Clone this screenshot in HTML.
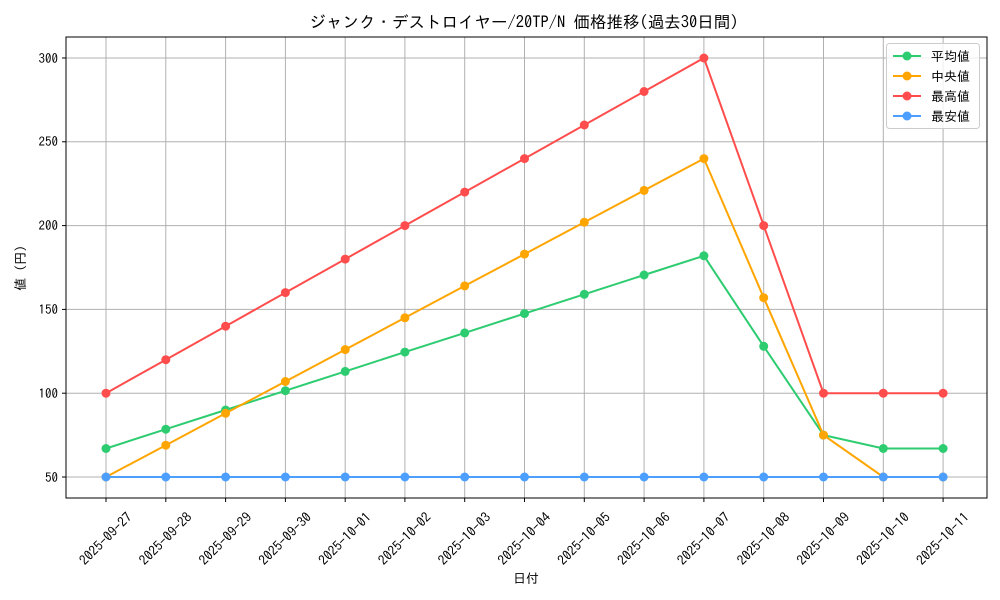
<!DOCTYPE html>
<html><head><meta charset="utf-8"><style>body{margin:0;background:#fff}svg{display:block}text{font-family:"IPAGothic","Liberation Sans",sans-serif;fill:#000}</style></head><body>
<svg width="1000" height="600" viewBox="0 0 1000 600" xmlns="http://www.w3.org/2000/svg">
<rect width="1000" height="600" fill="#fff"/>
<text x="524" y="28" font-size="16.5" text-anchor="middle">ジャンク・デストロイヤー/20TP/N 価格推移(過去30日間)</text>
<g stroke="#b0b0b0" stroke-width="1">
<line x1="106" y1="37" x2="106" y2="498"/><line x1="165.8" y1="37" x2="165.8" y2="498"/><line x1="225.6" y1="37" x2="225.6" y2="498"/><line x1="285.4" y1="37" x2="285.4" y2="498"/><line x1="345.2" y1="37" x2="345.2" y2="498"/><line x1="404.9" y1="37" x2="404.9" y2="498"/><line x1="464.7" y1="37" x2="464.7" y2="498"/><line x1="524.5" y1="37" x2="524.5" y2="498"/><line x1="584.3" y1="37" x2="584.3" y2="498"/><line x1="644.1" y1="37" x2="644.1" y2="498"/><line x1="703.9" y1="37" x2="703.9" y2="498"/><line x1="763.7" y1="37" x2="763.7" y2="498"/><line x1="823.5" y1="37" x2="823.5" y2="498"/><line x1="883.3" y1="37" x2="883.3" y2="498"/><line x1="943.1" y1="37" x2="943.1" y2="498"/>
<line x1="66" y1="477" x2="987" y2="477"/><line x1="66" y1="393.2" x2="987" y2="393.2"/><line x1="66" y1="309.4" x2="987" y2="309.4"/><line x1="66" y1="225.6" x2="987" y2="225.6"/><line x1="66" y1="141.8" x2="987" y2="141.8"/><line x1="66" y1="58" x2="987" y2="58"/>
</g>
<rect x="66" y="37" width="921" height="461" fill="none" stroke="#000" stroke-width="1"/>
<g stroke="#000"><line x1="62" y1="477" x2="66" y2="477"/><line x1="62" y1="393.2" x2="66" y2="393.2"/><line x1="62" y1="309.4" x2="66" y2="309.4"/><line x1="62" y1="225.6" x2="66" y2="225.6"/><line x1="62" y1="141.8" x2="66" y2="141.8"/><line x1="62" y1="58" x2="66" y2="58"/></g>
<g font-size="13" text-anchor="end"><text x="58" y="482">50</text><text x="58" y="398">100</text><text x="58" y="314">150</text><text x="58" y="230">200</text><text x="58" y="146">250</text><text x="58" y="63">300</text></g>
<text transform="translate(25,268) rotate(-90)" font-size="13" text-anchor="middle">値 (円)</text>
<text x="526" y="583" font-size="13" text-anchor="middle">日付</text>
<g stroke="#000"><line x1="106" y1="498" x2="106" y2="502"/><line x1="165.8" y1="498" x2="165.8" y2="502"/><line x1="225.6" y1="498" x2="225.6" y2="502"/><line x1="285.4" y1="498" x2="285.4" y2="502"/><line x1="345.2" y1="498" x2="345.2" y2="502"/><line x1="404.9" y1="498" x2="404.9" y2="502"/><line x1="464.7" y1="498" x2="464.7" y2="502"/><line x1="524.5" y1="498" x2="524.5" y2="502"/><line x1="584.3" y1="498" x2="584.3" y2="502"/><line x1="644.1" y1="498" x2="644.1" y2="502"/><line x1="703.9" y1="498" x2="703.9" y2="502"/><line x1="763.7" y1="498" x2="763.7" y2="502"/><line x1="823.5" y1="498" x2="823.5" y2="502"/><line x1="883.3" y1="498" x2="883.3" y2="502"/><line x1="943.1" y1="498" x2="943.1" y2="502"/></g>
<g font-size="13.5" text-anchor="middle">
<text transform="translate(109,542) rotate(-45)">2025-09-27</text>
<text transform="translate(168.8,542) rotate(-45)">2025-09-28</text>
<text transform="translate(228.6,542) rotate(-45)">2025-09-29</text>
<text transform="translate(288.4,542) rotate(-45)">2025-09-30</text>
<text transform="translate(348.2,542) rotate(-45)">2025-10-01</text>
<text transform="translate(407.9,542) rotate(-45)">2025-10-02</text>
<text transform="translate(467.7,542) rotate(-45)">2025-10-03</text>
<text transform="translate(527.5,542) rotate(-45)">2025-10-04</text>
<text transform="translate(587.3,542) rotate(-45)">2025-10-05</text>
<text transform="translate(647.1,542) rotate(-45)">2025-10-06</text>
<text transform="translate(706.9,542) rotate(-45)">2025-10-07</text>
<text transform="translate(766.7,542) rotate(-45)">2025-10-08</text>
<text transform="translate(826.5,542) rotate(-45)">2025-10-09</text>
<text transform="translate(886.3,542) rotate(-45)">2025-10-10</text>
<text transform="translate(946.1,542) rotate(-45)">2025-10-11</text>
</g>
<defs>
<marker id="mg" viewBox="0 0 10 10" refX="5" refY="5" markerWidth="10" markerHeight="10" markerUnits="userSpaceOnUse"><circle cx="5" cy="5" r="4.5" fill="#2ecc71"/></marker>
<marker id="mo" viewBox="0 0 10 10" refX="5" refY="5" markerWidth="10" markerHeight="10" markerUnits="userSpaceOnUse"><circle cx="5" cy="5" r="4.5" fill="#ffa500"/></marker>
<marker id="mr" viewBox="0 0 10 10" refX="5" refY="5" markerWidth="10" markerHeight="10" markerUnits="userSpaceOnUse"><circle cx="5" cy="5" r="4.5" fill="#ff4d4d"/></marker>
<marker id="mb" viewBox="0 0 10 10" refX="5" refY="5" markerWidth="10" markerHeight="10" markerUnits="userSpaceOnUse"><circle cx="5" cy="5" r="4.5" fill="#4d9fff"/></marker>
</defs>
<g fill="none" stroke-width="2">
<polyline stroke="#2ecc71" marker-start="url(#mg)" marker-mid="url(#mg)" marker-end="url(#mg)" points="106,448.5 165.8,429.2 225.6,410 285.4,390.7 345.2,371.4 404.9,352.1 464.7,332.9 524.5,313.6 584.3,294.3 644.1,275 703.9,255.8 763.7,346.3 823.5,435.1 883.3,448.5 943.1,448.5"/>
<polyline stroke="#ffa500" marker-start="url(#mo)" marker-mid="url(#mo)" marker-end="url(#mo)" points="106,477 165.8,445.2 225.6,413.3 285.4,381.5 345.2,349.6 404.9,317.8 464.7,285.9 524.5,254.1 584.3,222.2 644.1,190.4 703.9,158.6 763.7,297.7 823.5,435.1 883.3,477 943.1,477"/>
<polyline stroke="#ff4d4d" marker-start="url(#mr)" marker-mid="url(#mr)" marker-end="url(#mr)" points="106,393.2 165.8,359.7 225.6,326.2 285.4,292.6 345.2,259.1 404.9,225.6 464.7,192.1 524.5,158.6 584.3,125 644.1,91.5 703.9,58 763.7,225.6 823.5,393.2 883.3,393.2 943.1,393.2"/>
<polyline stroke="#4d9fff" marker-start="url(#mb)" marker-mid="url(#mb)" marker-end="url(#mb)" points="106,477 165.8,477 225.6,477 285.4,477 345.2,477 404.9,477 464.7,477 524.5,477 584.3,477 644.1,477 703.9,477 763.7,477 823.5,477 883.3,477 943.1,477"/>
</g>
<rect x="886.5" y="43.5" width="93" height="85" rx="3" fill="#fff" fill-opacity="0.8" stroke="#ccc"/>
<g stroke-width="2">
<line x1="893" y1="56" x2="921" y2="56" stroke="#2ecc71"/><circle cx="907" cy="56" r="4.5" fill="#2ecc71"/>
<line x1="893" y1="76" x2="921" y2="76" stroke="#ffa500"/><circle cx="907" cy="76" r="4.5" fill="#ffa500"/>
<line x1="893" y1="96" x2="921" y2="96" stroke="#ff4d4d"/><circle cx="907" cy="96" r="4.5" fill="#ff4d4d"/>
<line x1="893" y1="116" x2="921" y2="116" stroke="#4d9fff"/><circle cx="907" cy="116" r="4.5" fill="#4d9fff"/>
</g>
<g font-size="13"><text x="931" y="61">平均値</text><text x="931" y="81">中央値</text><text x="931" y="101">最高値</text><text x="931" y="121">最安値</text></g>
</svg>
</body></html>
